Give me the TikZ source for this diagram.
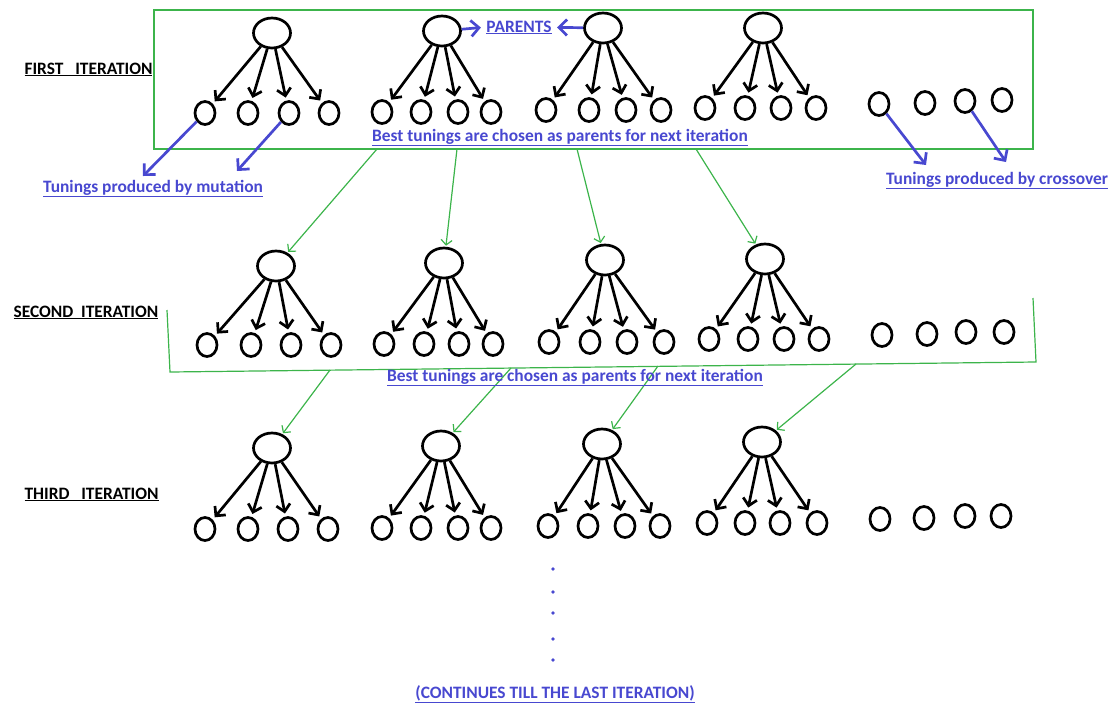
\documentclass[tikz,border=0pt]{standalone}
\usepackage{fontspec}
\setmainfont{Carlito}
\usetikzlibrary{arrows.meta,positioning,shapes.geometric}

\definecolor{notes}{RGB}{72,72,208}
\definecolor{pickgreen}{RGB}{60,180,75}

\begin{document}
\begin{tikzpicture}[
  x=1pt, y=-1pt,
  every node/.style = {font=\bfseries\fontsize{17.4}{20}\selectfont},
  parent/.style = {draw, ellipse, line width=2.7pt, minimum width=37pt, minimum height=30pt, inner sep=0pt},
  tuning/.style = {draw, ellipse, line width=2.7pt, minimum width=20pt, minimum height=23pt, inner sep=0pt},
  offspring/.style = {-{Straight Barb[length=7pt,width=14pt]}, line width=2.7pt, shorten >=3pt},
  chosen/.style = {-{Straight Barb[length=5pt,width=11pt]}, pickgreen, line width=1.2pt, shorten >=1pt},
  note/.style = {-{Straight Barb[length=8pt,width=16pt]}, notes, line width=2.7pt},
  remark/.style = {text=notes, anchor=base},
  iter/.style = {anchor=base west}
]
\useasboundingbox (0,0) rectangle (1117,702);

% parents with their four mutated tunings
\foreach \r/\g/\px/\py/\cy/\xs in {
  1/1/272/33/113/{205,248,289,329},
  1/2/442/31/112/{382,421,458,491},
  1/3/603/28/110/{546,589,626,661},
  1/4/763/28/108/{705,745,781,816},
  2/1/276/266/345/{207,251,291,331},
  2/2/444/263/344/{384,424,459,493},
  2/3/605/260/342/{549,590,627,664},
  2/4/765/259/339/{709,748,784,819},
  3/1/272/448/529/{205,248,288,328},
  3/2/441/446/528/{382,421,458,491},
  3/3/602/444/526/{548,588,625,660},
  3/4/762/442/523/{707,745,780,817}}
{
  \node[parent] (p\r\g) at (\px,\py) {};
  \foreach \cx [count=\k] in \xs {
    \node[tuning] (c\r\g\k) at (\cx,\cy) {};
    \draw[offspring] (p\r\g) -- (c\r\g\k);
  }
}

% tunings from crossover
\foreach \r/\k/\cx/\cy in {
  1/1/879/104, 1/2/925/103, 1/3/965/101, 1/4/1002/100,
  2/1/882/335, 2/2/927/334, 2/3/966/332, 2/4/1004/332,
  3/1/880/519, 3/2/924/518, 3/3/965/516, 3/4/1001/516}
  \node[tuning] (f\r\k) at (\cx,\cy) {};

% iteration titles
\node[iter] (first) at (21,74) {\underline{FIRST\ \ \ ITERATION}};
\node[iter] (second) at (10,317) {\underline{SECOND\ \ ITERATION}};
\node[iter] (third) at (21,499) {\underline{THIRD\ \ \ ITERATION}};

% selection frames
\draw[pickgreen, line width=1.2pt] (154,10) rectangle (1033,149);
\draw[pickgreen, line width=1.2pt] (167,310) -- (170,372) -- (1036,362) -- (1033,298);

\coordinate (s11) at (377,149);
\coordinate (s12) at (457,149);
\coordinate (s13) at (577,149);
\coordinate (s14) at (696,149);
\coordinate (s21) at (330,370);
\coordinate (s22) at (511,368);
\coordinate (s23) at (658,366);
\coordinate (s24) at (856,364);

\foreach \g in {1,...,4} {
  \draw[chosen] (s1\g) -- (p2\g);
  \draw[chosen] (s2\g) -- (p3\g);
}

% remarks
\node[remark] (parents) at (519,32) {\underline{PARENTS}};
\draw[note, shorten >=2pt] (p12) -- (parents.west);
\draw[note, shorten >=2pt] (p13) -- (parents.east);

\node[remark] (best1) at (560,141) {\underline{Best tunings are chosen as parents for next iteration}};
\node[remark] (best2) at (575,381) {\underline{Best tunings are chosen as parents for next iteration}};

\coordinate (m1) at (143,176);
\coordinate (m2) at (237,171);
\draw[note] (c111) -- (m1);
\draw[note] (c113) -- (m2);
\node[remark] (mutation) at (153,192) {\underline{Tunings produced by mutation}};

\coordinate (x1) at (926,165);
\coordinate (x2) at (1006,162);
\draw[note] (f11) -- (x1);
\draw[note] (f13) -- (x2);
\node[remark] (crossover) at (997,184) {\underline{Tunings produced by crossover}};

% and so on
\foreach \y in {569,592,613,639,660}
  \fill[notes] (553,\y) circle (1.8pt);
\node[remark] (last) at (555,698) {\underline{(CONTINUES TILL THE LAST ITERATION)}};

\end{tikzpicture}
\end{document}
